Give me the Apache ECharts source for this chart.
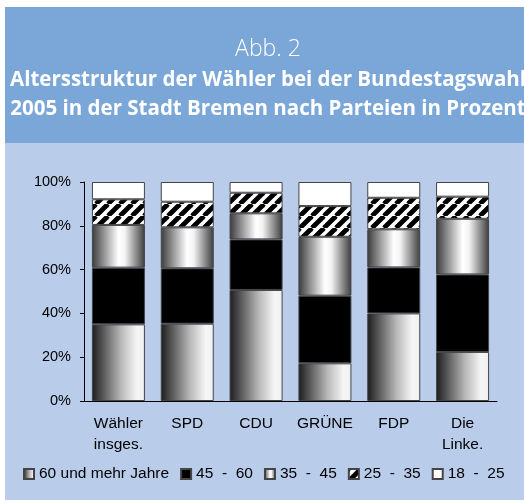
<!DOCTYPE html>
<html>
<head>
<meta charset="utf-8">
<script src="https://cdn.jsdelivr.net/npm/echarts@6/dist/echarts.min.js"></script>
<style>
  html, body { margin: 0; padding: 0; background: #fff; }
  #main { width: 524px; height: 504px; }
</style>
</head>
<body>
<div id="main"></div>
<script>
var parteien = ['Wähler\ninsges.', 'SPD', 'CDU', 'GRÜNE', 'FDP', 'Die\nLinke.'];
var altersgruppen = ['60 und mehr Jahre', '45  -  60', '35  -  45', '25  -  35', '18  -  25'];
var ab60 = [35.0, 35.3, 50.7, 17.2, 40.0, 22.4];
var ab45 = [25.9, 25.3, 23.1, 30.9, 21.0, 35.4];
var ab35 = [19.5, 18.7, 11.9, 26.9, 17.4, 25.4];
var ab25 = [11.7, 11.7, 9.4, 14.0, 14.4, 10.1];
var ab18 = [7.9, 9.0, 4.9, 11.0, 7.2, 6.7];
var yTicks = [0, 20, 40, 60, 80, 100];

// Streifenmuster fuer 25 - 35
var tile = document.createElement('canvas');
tile.width = 12; tile.height = 12;
var ctx = tile.getContext('2d');
ctx.fillStyle = '#fff';
ctx.fillRect(0, 0, 12, 12);
ctx.strokeStyle = '#000';
ctx.lineWidth = 4.8;
[-12, 0, 12].forEach(function (k) {
  ctx.beginPath();
  ctx.moveTo(k, 12);
  ctx.lineTo(k + 12, 0);
  ctx.stroke();
});

var gradLinks = new echarts.graphic.LinearGradient(0, 0, 1, 0, [
  { offset: 0, color: '#1c1c1c' },
  { offset: 0.55, color: '#b8b8b8' },
  { offset: 0.85, color: '#f6f6f6' },
  { offset: 1, color: '#f0f0f0' }
]);
var gradMitte = new echarts.graphic.LinearGradient(0, 0, 1, 0, [
  { offset: 0, color: '#3a3a3a' },
  { offset: 0.5, color: '#ffffff' },
  { offset: 0.62, color: '#f4f4f4' },
  { offset: 1, color: '#3c3c3c' }
]);

var fills = [gradLinks, '#000', gradMitte, { image: tile, repeat: 'repeat' }, '#fff'];
var werte = [ab60, ab45, ab35, ab25, ab18];

var myChart = echarts.init(document.getElementById('main'));
myChart.setOption({
  backgroundColor: '#fff',
  animation: false,
  graphic: [
    { type: 'rect', z: -10, shape: { x: 5, y: 7, width: 519, height: 136 }, style: { fill: '#7ba6d8' } },
    { type: 'rect', z: -10, shape: { x: 5, y: 143, width: 519, height: 357 }, style: { fill: '#b9cdeb' } },
    { type: 'text', z: 5, x: 268, y: 61, style: { text: 'Abb. 2', fill: '#fff', font: '300 23px "Open Sans"', align: 'center', verticalAlign: 'bottom' } },
    { type: 'text', z: 5, x: 268, y: 91, style: { text: 'Altersstruktur der Wähler bei der Bundestagswahl', fill: '#fff', font: 'bold 20.5px "Open Sans"', align: 'center', verticalAlign: 'bottom' } },
    { type: 'text', z: 5, x: 268, y: 120, style: { text: '2005 in der Stadt Bremen nach Parteien in Prozent', fill: '#fff', font: 'bold 20.5px "Open Sans"', align: 'center', verticalAlign: 'bottom' } }
  ],
  grid: { left: 84, right: 27, top: 182, bottom: 103 },
  legend: {
    left: 23,
    top: 466,
    padding: 0,
    itemWidth: 10,
    itemHeight: 10,
    itemGap: 11,
    icon: 'rect',
    textStyle: { fontFamily: 'Liberation Sans', fontSize: 15.5, color: '#000' },
    data: altersgruppen
  },
  xAxis: {
    type: 'category',
    data: parteien,
    axisLine: { lineStyle: { color: '#000' } },
    axisTick: { length: 5, lineStyle: { color: '#000' } },
    axisLabel: { interval: 0, fontFamily: 'Liberation Sans', fontSize: 15.5, color: '#000', lineHeight: 21, margin: 12 }
  },
  yAxis: {
    type: 'value',
    min: yTicks[0],
    max: yTicks[yTicks.length - 1],
    interval: 20,
    axisLine: { show: true, lineStyle: { color: '#000' } },
    axisTick: { show: true, length: 4, lineStyle: { color: '#000' } },
    splitLine: { show: false },
    axisLabel: { formatter: '{value}%', fontFamily: 'Liberation Sans', fontSize: 14.5, color: '#000', margin: 13 }
  },
  series: altersgruppen.map(function (name, i) {
    return {
      name: name,
      type: 'bar',
      stack: 'alter',
      barWidth: 53,
      data: werte[i],
      itemStyle: { color: fills[i], borderColor: '#444', borderWidth: 1 }
    };
  })
});
</script>
</body>
</html>
